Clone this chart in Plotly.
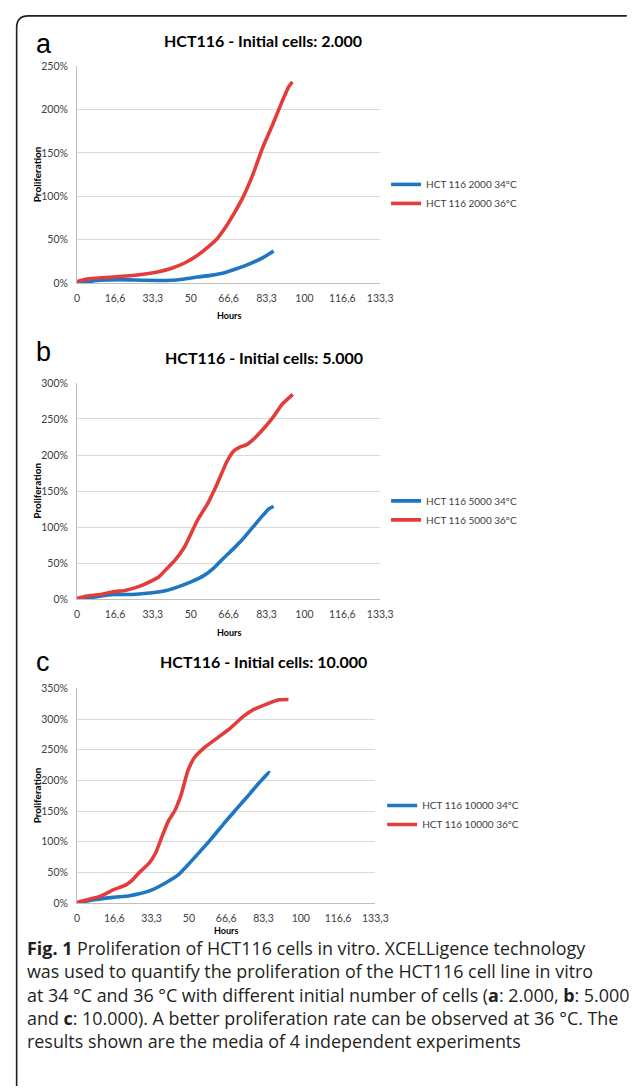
import plotly.graph_objects as go

W, H = 633, 1092

# ---------------- data ----------------
x_tick_vals = [0, 16.66, 33.33, 50, 66.66, 83.33, 100, 116.66, 133.33]
x_tick_text = ["0", "16,6", "33,3", "50", "66,6", "83,3", "100", "116,6", "133,3"]

# Panel a : 2.000 cells
a34_h = [0, 10.1, 18.7, 30.1, 41.6, 47.3, 53.0, 58.7, 64.4, 70.1, 75.9, 81.6, 84.4, 86.4]
a34_v = [0, 3.0, 3.8, 3.0, 3.0, 4.6, 6.8, 8.7, 11.4, 16.3, 22.0, 29.0, 33.4, 36.9]
a36_h = [0, 4.4, 15.9, 27.3, 35.9, 41.6, 47.3, 53.0, 58.7, 61.6, 65.0, 69.0, 73.0, 77.3, 81.6, 85.9, 90.1, 93.0, 94.7]
a36_v = [1.5, 4.6, 6.8, 9.5, 13, 17, 23, 32, 44, 51, 63, 80, 99, 125, 156, 182, 209, 226, 232]

# Panel b : 5.000 cells
b34_h = [0, 7.3, 15.9, 24.4, 33.0, 38.7, 44.4, 50.1, 55.9, 60.1, 64.4, 68.7, 73.0, 77.3, 81.6, 84.4, 86.4]
b34_v = [0, 3.2, 6.8, 6.8, 9.1, 11.9, 17.4, 24.2, 33.3, 43.4, 57, 70, 84, 100, 116, 125.6, 129]
b36_h = [0, 4.4, 10.1, 15.9, 21.6, 27.3, 33.0, 35.9, 38.7, 43.0, 47.3, 50.1, 53.0, 57.3, 61.6,
         65.9, 68.7, 71.6, 74.4, 77.3, 81.6, 85.9, 90.1, 94.9]
b36_v = [1.4, 4.6, 6.8, 10.5, 12.8, 18, 26, 31, 40, 54, 73, 91, 110, 132, 160,
         191, 205, 211, 214, 221, 235, 251, 270, 284]

# Panel c : 10.000 cells
c34_h = [0, 7.4, 16.1, 23.4, 27.7, 33.5, 39.3, 45.2, 49.5, 53.9, 59.7, 65.5, 71.3, 77.1, 81.5, 85.8, 86.2]
c34_v = [0, 5.4, 9.2, 11.8, 15, 21.5, 32.3, 45.8, 62, 79.7, 103.4, 129.2, 153.5, 177.7, 196.5, 212.7, 212]
c36_h = [0, 4.5, 10.3, 16.1, 21.9, 24.8, 27.7, 32.1, 35.0, 37.9, 40.8, 43.7, 46.6, 49.5, 52.4,
         56.8, 62.6, 68.4, 74.2, 78.6, 84.4, 90.2, 94.5]
c36_v = [1, 5.4, 10.8, 21.5, 29.6, 37.7, 49.5, 64.6, 80.8, 107.7, 133.5, 150.8, 177.7, 215.4, 236.9,
         253, 269, 285, 304, 315, 324, 331.5, 332]

titles = ["HCT116 - Initial cells: 2.000", "HCT116 - Initial cells: 5.000", "HCT116 - Initial cells: 10.000"]
panel_letters = ["a", "b", "c"]
names = [["HCT 116 2000 34ºC", "HCT 116 2000 36ºC"],
         ["HCT 116 5000 34ºC", "HCT 116 5000 36ºC"],
         ["HCT 116 10000 34ºC", "HCT 116 10000 36ºC"]]
y_max = [250, 300, 350]
series = [[(a34_h, a34_v), (a36_h, a36_v)],
          [(b34_h, b34_v), (b36_h, b36_v)],
          [(c34_h, c34_v), (c36_h, c36_v)]]

caption_lines = [
    "<b>Fig. 1</b> Proliferation of HCT116 cells in vitro. XCELLigence technology",
    "was used to quantify the proliferation of the HCT116 cell line in vitro",
    "at 34 °C and 36 °C with different initial number of cells (<b>a</b>: 2.000, <b>b</b>: 5.000",
    "and <b>c</b>: 10.000). A better proliferation rate can be observed at 36 °C. The",
    "results shown are the media of 4 independent experiments",
]

# ---------------- layout geometry (pixels) ----------------
BLUE = "#1f77c4"
RED = "#e23d3a"
colors = [BLUE, RED]
plot_x = [(76, 387), (76, 387), (76, 382)]
plot_y = [(61, 280), (381, 600), (690, 907)]
title_y = [35, 355, 663]
title_x = [267, 268, 267]
letter_y = [38, 350, 663]
hours_y = [313, 633, 935]
prolif_y = [170, 490, 798]
legend_y = [190, 510, 818]
legend_x = [393, 393, 389]

XLF = "Lato, Carlito, Open Sans, sans-serif"
CAPFONT = "Open Sans, Noto Sans, sans-serif"

def px(x):
    return x / W

def py(y):
    return 1 - y / H

fig = go.Figure()
layout = dict(width=W, height=H, margin=dict(l=0, r=0, t=0, b=0),
              paper_bgcolor="white", plot_bgcolor="white", showlegend=True)
annotations = []

for i in range(3):
    sfx = "" if i == 0 else str(i + 1)
    leg = "legend" + sfx
    for j in range(2):
        hx, vy = series[i][j]
        fig.add_trace(go.Scatter(x=hx, y=vy, mode="lines", name=names[i][j],
                                 line=dict(color=colors[j], width=3.6, shape="spline", smoothing=0.5),
                                 xaxis="x" + sfx, yaxis="y" + sfx, legend=leg))
    layout["xaxis" + sfx] = dict(domain=[px(plot_x[i][0]), px(plot_x[i][1])], anchor="y" + sfx,
                                 range=[0, 133.33], tickvals=x_tick_vals, ticktext=x_tick_text,
                                 showgrid=False, zeroline=False, showline=True, linecolor="#bfbfbf",
                                 linewidth=1, ticks="", ticklabelstandoff=5,
                                 tickfont=dict(family=XLF, size=10.5, color="#404040"))
    layout["yaxis" + sfx] = dict(domain=[py(plot_y[i][1]), py(plot_y[i][0])], anchor="x" + sfx,
                                 range=[0, y_max[i]], dtick=50, ticksuffix="%",
                                 showgrid=True, gridcolor="#d9d9d9", gridwidth=1,
                                 zeroline=False, showline=True, linecolor="#bfbfbf", linewidth=1,
                                 ticks="", ticklabelstandoff=6,
                                 tickfont=dict(family=XLF, size=10.5, color="#404040"))
    layout[leg] = dict(x=px(legend_x[i]), y=py(legend_y[i]), xanchor="left", yanchor="middle",
                       bgcolor="rgba(0,0,0,0)", font=dict(family=XLF, size=10, color="#404040"),
                       tracegroupgap=0, itemwidth=30)
    annotations.append(dict(text="<b>" + titles[i] + "</b>", x=px(title_x[i]), y=py(title_y[i]),
                            xref="paper", yref="paper", showarrow=False, xanchor="center", yanchor="middle",
                            font=dict(family=XLF, size=16, color="black")))
    annotations.append(dict(text=panel_letters[i], x=px(32), y=py(letter_y[i]),
                            xref="paper", yref="paper", showarrow=False, xanchor="left", yanchor="middle",
                            font=dict(family="Liberation Sans, Arial, sans-serif", size=27, color="black")))
    annotations.append(dict(text="<b>Hours</b>", x=px((plot_x[i][0] + plot_x[i][1]) / 2), y=py(hours_y[i]),
                            xref="paper", yref="paper", showarrow=False, xanchor="center", yanchor="middle",
                            font=dict(family=XLF, size=9, color="black")))
    annotations.append(dict(text="<b>Proliferation</b>", x=px(35), y=py(prolif_y[i]), textangle=-90,
                            xref="paper", yref="paper", showarrow=False, xanchor="center", yanchor="middle",
                            font=dict(family=XLF, size=10, color="black")))

cap_y0 = 952.5
for k, line in enumerate(caption_lines):
    annotations.append(dict(text=line, x=px(23), y=py(cap_y0 + 23.5 * k), xref="paper", yref="paper",
                            showarrow=False, xanchor="left", yanchor="middle",
                            font=dict(family=CAPFONT, size=17.9, color="#231f20")))

layout["annotations"] = annotations
layout["shapes"] = [dict(type="path", xref="paper", yref="paper",
                         path=f"M {px(14)},{py(1092)} L {px(14)},{py(22)} Q {px(14)},{py(10)} {px(26)},{py(10)} L {px(640)},{py(10)}",
                         line=dict(color="#231f20", width=1.6))]
fig.update_layout(**layout)
fig.write_html("out.html", config={"displayModeBar": False},
               post_script="document.body.style.margin='0';document.body.style.overflow='hidden';"
                           "document.documentElement.style.overflow='hidden';")
